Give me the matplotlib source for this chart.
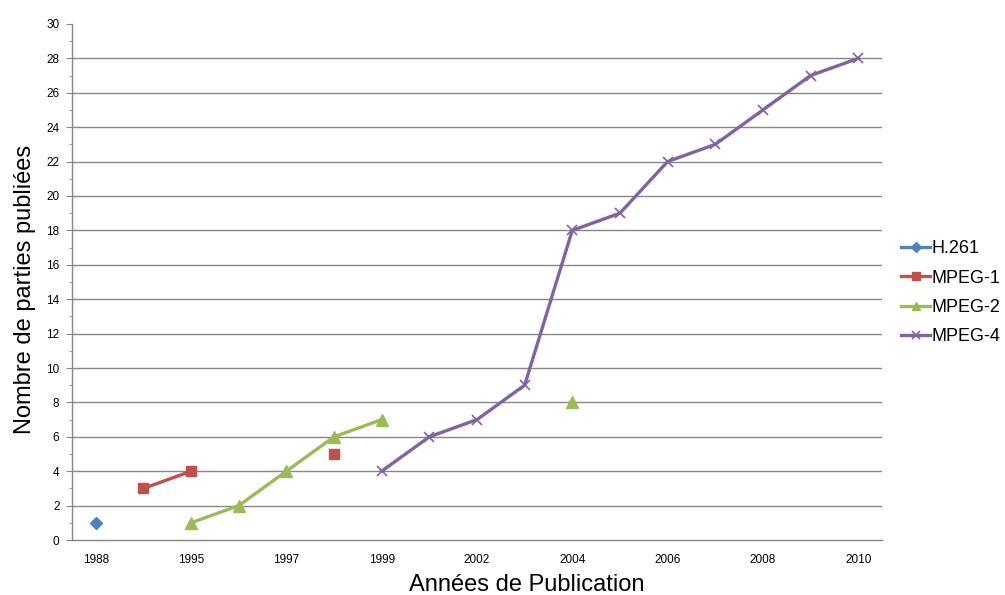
import numpy as np
import matplotlib.pyplot as plt
from matplotlib.ticker import MultipleLocator

# one category per publication year, only every other one gets a label
years = ["1988", "1993", "1995", "1996", "1997", "1998", "1999", "2001", "2002",
         "2003", "2004", "2005", "2006", "2007", "2008", "2009", "2010"]
nan = np.nan
h261 = [1, nan, nan, nan, nan, nan, nan, nan, nan, nan, nan, nan, nan, nan, nan, nan, nan]
mpeg1 = [nan, 3, 4, nan, nan, 5, nan, nan, nan, nan, nan, nan, nan, nan, nan, nan, nan]
mpeg2 = [nan, nan, 1, 2, 4, 6, 7, nan, nan, nan, 8, nan, nan, nan, nan, nan, nan]
mpeg4 = [nan, nan, nan, nan, nan, nan, 4, 6, 7, 9, 18, 19, 22, 23, 25, 27, 28]

x = np.arange(len(years))

fig = plt.figure(figsize=(10.05, 5.95), dpi=100)
ax = fig.add_axes([0.0716, 0.0924, 0.806, 0.8673])

ax.plot(x, h261, color="#4F81BD", lw=2.4, marker="D", ms=6, label="H.261")
ax.plot(x, mpeg1, color="#C0504D", lw=2.4, marker="s", ms=7.5, label="MPEG-1")
ax.plot(x, mpeg2, color="#9BBB59", lw=2.4, marker="^", ms=8, label="MPEG-2")
ax.plot(x, mpeg4, color="#8064A2", lw=2.4, marker="x", ms=7, mew=1.2, label="MPEG-4")

ax.set_xlim(-0.5, len(years) - 0.5)
ax.set_ylim(0, 30)
ax.set_xticks(x[::2])
ax.set_xticklabels(years[::2], fontsize=8.5, family="Liberation Sans")
ax.yaxis.set_major_locator(MultipleLocator(2))
ax.yaxis.set_minor_locator(MultipleLocator(1))
for lbl in ax.get_yticklabels():
    lbl.set_fontsize(8.5)
    lbl.set_family("Liberation Sans")

ax.tick_params(axis="x", length=0, pad=10)
ax.tick_params(axis="y", which="major", length=4, color="#868686", pad=5)
ax.tick_params(axis="y", which="minor", length=2, color="#868686")

# horizontal grid at every even value below the top
for v in range(2, 30, 2):
    ax.axhline(v, color="#868686", lw=1, zorder=0)

for s in ["top", "right"]:
    ax.spines[s].set_visible(False)
for s in ["left", "bottom"]:
    ax.spines[s].set_color("#868686")
    ax.spines[s].set_linewidth(1)

ax.set_ylabel("Nombre de parties publiées", fontsize=17, family="Liberation Sans")
ax.set_xlabel("Années de Publication", fontsize=17, family="Liberation Sans")
ax.yaxis.set_label_coords(-0.045, 0.485)
ax.xaxis.set_label_coords(0.562, -0.066)

fig.legend(loc="center left", bbox_to_anchor=(0.897, 0.508), frameon=False,
           prop={"family": "Liberation Sans", "size": 13}, handlelength=1.6,
           handletextpad=0.05, labelspacing=0.68, borderaxespad=0, borderpad=0,
           markerscale=0.8)

fig.savefig("out.png", dpi=100)
